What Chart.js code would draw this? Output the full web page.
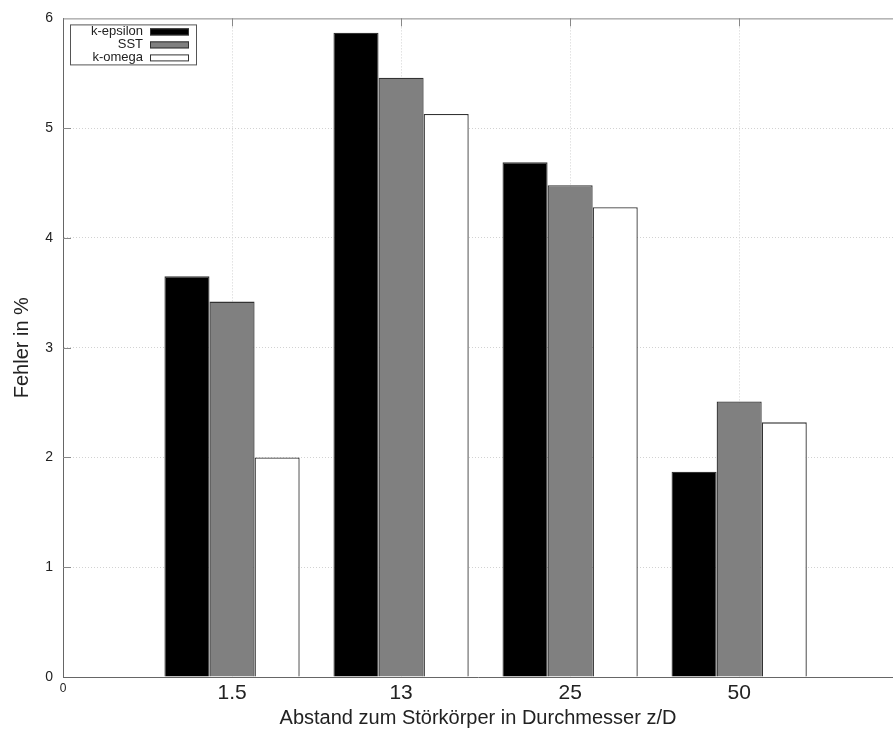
<!DOCTYPE html>
<html>
<head>
<meta charset="utf-8">
<title>Fehler nach Abstand</title>
<script src="https://cdn.jsdelivr.net/npm/chart.js"></script>
<style>
    body { margin: 0; padding: 0; background: #fff; }
    #wrap { position: relative; width: 893px; height: 733px; }
</style>
</head>
<body>
<div id="wrap">
    <canvas id="myChart" width="893" height="733"></canvas>
</div>
<script>
    // Abstand z/D
    var categories = ['1.5', '13', '25', '50'];
    var seriesNames = ['k-epsilon', 'SST', 'k-omega'];

    // Fehler in %
    var kEpsilon = [3.65, 5.87, 4.69, 1.87];
    var sst      = [3.42, 5.46, 4.48, 2.51];
    var kOmega   = [2.00, 5.13, 4.28, 2.32];

    var yTicks = [0, 1, 2, 3, 4, 5, 6];

    var fills = ['#000000', '#808080', '#ffffff'];

    function toPoints(vals) {
        return vals.map(function (v, i) { return { x: i + 1, y: v }; });
    }

    var datasets = [kEpsilon, sst, kOmega].map(function (vals, k) {
        return {
            label: seriesNames[k],
            data: toPoints(vals),
            backgroundColor: fills[k],
            borderColor: '#333',
            borderWidth: 1.3,
            barPercentage: 1.0,
            categoryPercentage: 0.8
        };
    });

    // gnuplot-artiger Rahmen oben + Legende mit Text links vom Muster
    var frameAndKey = {
        id: 'frameAndKey',
        afterDraw: function (chart) {
            var ctx = chart.ctx;
            var a = chart.chartArea;
            var xs = chart.scales.x, ys = chart.scales.y;
            ctx.save();
            ctx.strokeStyle = '#888';
            ctx.lineWidth = 1;
            ctx.beginPath();
            ctx.moveTo(a.left, a.top + 0.5);
            ctx.lineTo(a.right, a.top + 0.5);
            ctx.stroke();
            // kleine Tickmarken innen
            xs.ticks.forEach(function (t) {
                if (t.value === 0) return;
                var px = Math.round(xs.getPixelForValue(t.value)) + 0.5;
                ctx.beginPath();
                ctx.moveTo(px, a.top);
                ctx.lineTo(px, a.top + 8);
                ctx.stroke();
            });
            ys.ticks.forEach(function (t) {
                if (t.value === 0 || t.value === 6) return;
                var py = Math.round(ys.getPixelForValue(t.value)) + 0.5;
                ctx.beginPath();
                ctx.moveTo(a.left, py);
                ctx.lineTo(a.left + 8, py);
                ctx.stroke();
            });

            // Legende
            var bx = a.left + 7, by = a.top + 6, bw = 126, bh = 40;
            ctx.fillStyle = '#fff';
            ctx.fillRect(bx, by, bw, bh);
            ctx.strokeStyle = '#555';
            ctx.strokeRect(bx + 0.5, by + 0.5, bw, bh);
            ctx.font = '13px "Liberation Sans", Arial, sans-serif';
            ctx.textAlign = 'right';
            ctx.textBaseline = 'middle';
            chart.data.datasets.forEach(function (ds, i) {
                var cy = by + 7 + i * 13;
                ctx.fillStyle = '#222';
                ctx.fillText(ds.label, bx + 73, cy);
                ctx.fillStyle = ds.backgroundColor;
                ctx.fillRect(bx + 80, cy - 3, 39, 7);
                ctx.strokeStyle = '#333';
                ctx.strokeRect(bx + 80.5, cy - 2.5, 38, 6);
            });
            ctx.restore();
        }
    };

    new Chart(document.getElementById('myChart'), {
        type: 'bar',
        data: { datasets: datasets },
        plugins: [frameAndKey],
        options: {
            responsive: false,
            animation: false,
            layout: { padding: { top: 13, right: 0, left: 0, bottom: 0 } },
            plugins: {
                legend: { display: false },
                tooltip: { enabled: false }
            },
            scales: {
                x: {
                    type: 'linear',
                    min: 0,
                    max: 4.91,
                    offset: false,
                    afterBuildTicks: function (scale) {
                        scale.ticks = [0, 1, 2, 3, 4].map(function (v) { return { value: v }; });
                    },
                    afterFit: function (scale) { scale.height = 56; },
                    ticks: {
                        autoSkip: false,
                        maxRotation: 0,
                        padding: 4,
                        color: '#222',
                        font: function (c) {
                            return c.tick && c.tick.value === 0
                                ? { family: '"Liberation Sans", Arial', size: 12 }
                                : { family: '"Liberation Sans", Arial', size: 21 };
                        },
                        callback: function (v) {
                            return v === 0 ? '0' : categories[v - 1];
                        }
                    },
                    grid: {
                        offset: false,
                        drawTicks: false,
                        color: function (c) { return c.tick && c.tick.value === 0 ? 'rgba(0,0,0,0)' : '#d2d2d2'; },
                        lineWidth: 1
                    },
                    border: { display: true, color: '#666', width: 1, dash: [1, 2] },
                    title: {
                        display: true,
                        text: 'Abstand zum Störkörper in Durchmesser z/D',
                        color: '#222',
                        font: { family: '"Liberation Sans", Arial', size: 20 },
                        padding: { top: 0, bottom: 3 }
                    }
                },
                y: {
                    min: 0,
                    max: 6,
                    afterBuildTicks: function (scale) {
                        scale.ticks = yTicks.map(function (v) { return { value: v }; });
                    },
                    afterFit: function (scale) { scale.width = 63; },
                    ticks: {
                        padding: 10,
                        color: '#222',
                        font: { family: '"Liberation Sans", Arial', size: 14 }
                    },
                    grid: {
                        drawTicks: false,
                        color: function (c) {
                            return (c.tick && (c.tick.value === 0 || c.tick.value === 6)) ? 'rgba(0,0,0,0)' : '#d2d2d2';
                        },
                        lineWidth: 1
                    },
                    border: { display: true, color: '#666', width: 1, dash: [1, 2] },
                    title: {
                        display: true,
                        text: 'Fehler in %',
                        color: '#222',
                        font: { family: '"Liberation Sans", Arial', size: 20 },
                        padding: { top: 10, bottom: 0 }
                    }
                }
            }
        }
    });
</script>
</body>
</html>
